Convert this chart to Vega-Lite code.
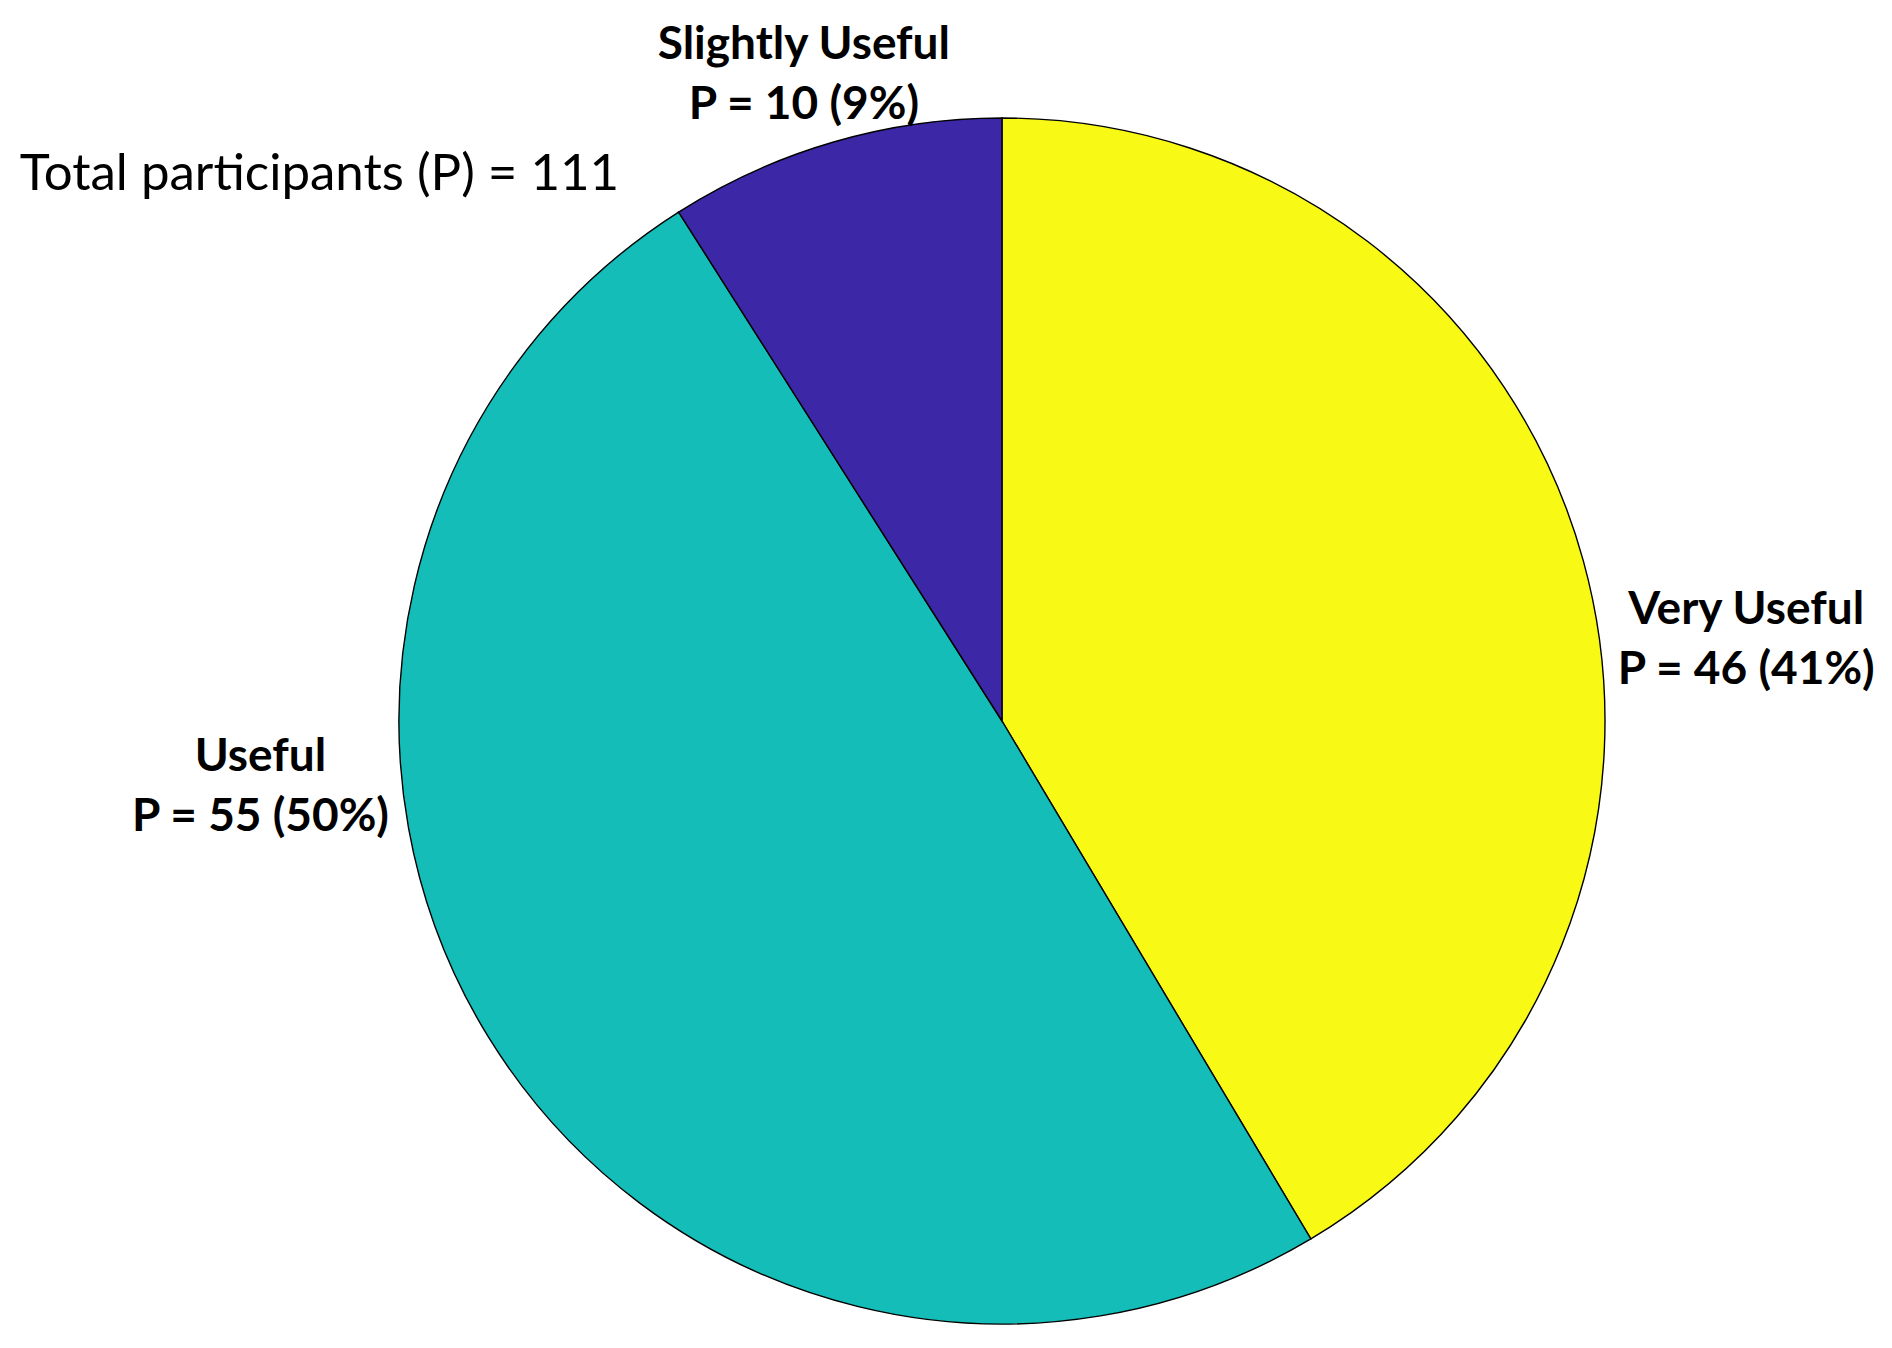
{
  "$schema": "https://vega.github.io/schema/vega-lite/v6.json",
  "width": 1206,
  "height": 1206,
  "autosize": {"type": "none"},
  "padding": {"left": 399, "top": 118, "right": 287, "bottom": 24},
  "background": "white",
  "data": {
    "values": [
      {"cat": "Very Useful", "P": 46, "label": "Very Useful\nP = 46 (41%)"},
      {"cat": "Useful", "P": 55, "label": "Useful\nP = 55 (50%)"},
      {"cat": "Slightly Useful", "P": 10, "label": "Slightly Useful\nP = 10 (9%)"}
    ]
  },
  "encoding": {
    "theta": {"field": "P", "type": "quantitative", "stack": true},
    "order": {"field": "cat", "type": "nominal", "sort": "descending"}
  },
  "layer": [
    {
      "mark": {"type": "arc", "stroke": "black", "strokeWidth": 1.4},
      "encoding": {
        "color": {
          "field": "cat",
          "type": "nominal",
          "scale": {"domain": ["Very Useful", "Useful", "Slightly Useful"], "range": ["#F8F915", "#14BDB8", "#3C27A6"]},
          "legend": null
        }
      }
    },
    {
      "mark": {"type": "text", "radius": 663, "dx": 105, "dy": 65, "font": "Lato", "fontSize": 46, "fontWeight": "bold", "lineBreak": "\n", "lineHeight": 60, "align": "center", "baseline": "middle", "color": "black"},
      "encoding": {
        "detail": {"field": "cat", "type": "nominal"},
        "text": {"condition": {"test": "datum.cat === 'Very Useful'", "field": "label"}, "value": ""}
      }
    },
    {
      "mark": {"type": "text", "radius": 663, "dx": -177, "dy": -312, "font": "Lato", "fontSize": 46, "fontWeight": "bold", "lineBreak": "\n", "lineHeight": 60, "align": "center", "baseline": "middle", "color": "black"},
      "encoding": {
        "detail": {"field": "cat", "type": "nominal"},
        "text": {"condition": {"test": "datum.cat === 'Useful'", "field": "label"}, "value": ""}
      }
    },
    {
      "mark": {"type": "text", "radius": 663, "dx": -13, "dy": -39, "font": "Lato", "fontSize": 46, "fontWeight": "bold", "lineBreak": "\n", "lineHeight": 60, "align": "center", "baseline": "middle", "color": "black"},
      "encoding": {
        "detail": {"field": "cat", "type": "nominal"},
        "text": {"condition": {"test": "datum.cat === 'Slightly Useful'", "field": "label"}, "value": ""}
      }
    },
    {
      "mark": {"type": "text", "radius": 663, "dx": -797, "dy": 91, "font": "Lato", "fontSize": 51, "fontWeight": "normal", "align": "left", "baseline": "middle", "color": "black"},
      "encoding": {
        "detail": {"field": "cat", "type": "nominal"},
        "text": {"condition": {"test": "datum.cat === 'Slightly Useful'", "value": "Total participants (P) = 111"}, "value": ""}
      }
    }
  ]
}
